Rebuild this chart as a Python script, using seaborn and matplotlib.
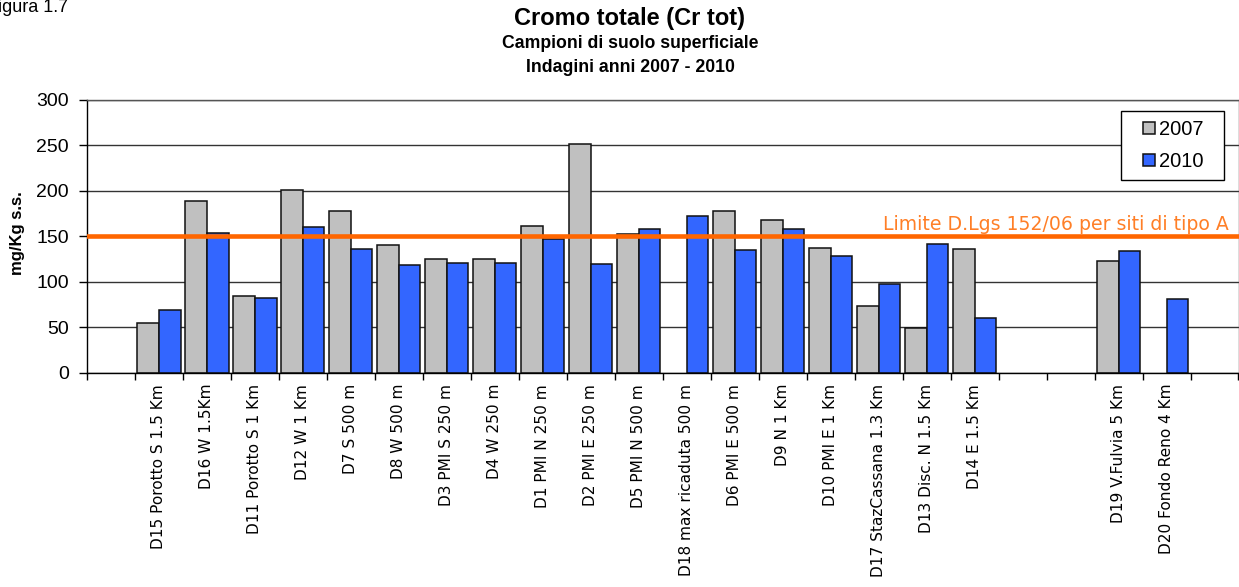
import numpy as np
import pandas as pd
import matplotlib
matplotlib.use("Agg")
import matplotlib.pyplot as plt
from matplotlib.patches import Rectangle
import seaborn as sns

# Sampling sites (soil surface samples) and total chromium, mg/Kg s.s.
sites = [
    "D15 Porotto S 1.5 Km", "D16 W 1.5Km", "D11 Porotto S 1 Km", "D12 W 1 Km",
    "D7 S 500 m", "D8 W 500 m", "D3 PMI S 250 m", "D4 W 250 m",
    "D1 PMI N 250 m", "D2 PMI E 250 m", "D5 PMI N 500 m", "D18 max ricaduta 500 m",
    "D6 PMI E 500 m", "D9 N 1 Km", "D10 PMI E 1 Km", "D17 StazCassana 1.3 Km",
    "D13 Disc. N 1.5 Km", "D14 E 1.5 Km", "D19 V.Fulvia 5 Km", "D20 Fondo Reno 4 Km",
]
v2007 = [55, 189, 84, 201, 177.5, 140.5, 125, 125, 161, 252, 152.5, None,
         177.5, 168, 137.5, 73, 49.5, 136.5, 122.5, None]
v2010 = [69, 154, 82.5, 160, 136, 118.5, 121, 121, 147, 120, 158.5, 172,
         135, 158.5, 128, 98, 142, 60.5, 134, 81.5]
years = ["2007", "2010"]
limit_value = 150
limit_label = "Limite D.Lgs 152/06 per siti di tipo A"
y_ticks = [0, 50, 100, 150, 200, 250, 300]

# empty category slots around the groups of sites
order = [" "] + sites[:18] + ["  ", "   "] + sites[18:] + ["    "]

rows = []
for s, a, b in zip(sites, v2007, v2010):
    if a is not None:
        rows.append((s, "2007", a))
    if b is not None:
        rows.append((s, "2010", b))
df = pd.DataFrame(rows, columns=["site", "anno", "valore"])

sns.set_theme(style="white")
plt.rcParams["font.family"] = ["Liberation Sans", "DejaVu Sans"]
plt.rcParams["text.color"] = "black"
plt.rcParams["axes.labelcolor"] = "black"
plt.rcParams["xtick.color"] = "black"
plt.rcParams["ytick.color"] = "black"

W, H = 1239, 587
fig = plt.figure(figsize=(W / 100, H / 100), dpi=100)
ax_w = 1238.5 - 87
ax_h = 372.7 - 100
ax = fig.add_axes([87 / W, 1 - 372.7 / H, ax_w / W, ax_h / H])

sns.barplot(data=df, x="site", y="valore", hue="anno", order=order,
            hue_order=years, palette=["#C0C0C0", "#3366FF"],
            width=0.9, edgecolor="#111111", linewidth=1.1, saturation=1,
            ax=ax)

ax.set_xlim(-0.5, len(order) - 0.5)
ax.set_ylim(0, 300)
ax.set_yticks(y_ticks)
ax.set_yticklabels([str(t) for t in y_ticks], fontsize=14)
ax.tick_params(axis="y", direction="out", length=6, width=1, color="black",
               left=True, pad=7)

# boundary ticks between categories, labels at category centres
ax.set_xticks(np.arange(-0.5, len(order), 1.0))
ax.set_xticklabels([])
ax.tick_params(axis="x", which="major", direction="out", length=5, width=1,
               color="black", bottom=True)
ax.set_xticks(np.arange(len(order)), minor=True)
ax.set_xticklabels(order, minor=True, rotation=90, fontsize=11.1,
                   family="DejaVu Sans")
ax.tick_params(axis="x", which="minor", length=0, pad=8)
ax.set_xlabel("")
ax.set_ylabel("mg/Kg s.s.", fontsize=12, fontweight="bold")
ax.yaxis.set_label_coords((25 - 87) / ax_w, 0.51)

ax.set_axisbelow(True)
ax.yaxis.grid(True, color="#333333", linewidth=1)
for side in ["left", "bottom"]:
    ax.spines[side].set_color("black")
    ax.spines[side].set_linewidth(1)
for side in ["top", "right"]:
    ax.spines[side].set_color("#555555")
    ax.spines[side].set_linewidth(1)

ax.axhline(limit_value, color="#FF6600", linewidth=3.3, zorder=5)
ax.text(len(order) - 0.5 - (1238.5 - 1229) / 48, 157.5, limit_label,
        color="#FF7F27", fontsize=13.6, family="DejaVu Sans",
        ha="right", va="baseline")

leg = ax.legend(loc="upper left",
                bbox_to_anchor=((1143 - 87) / ax_w, (372.7 - 120) / ax_h),
                fontsize=14.5, frameon=False,
                handlelength=0.6, handleheight=0.6, handletextpad=0.2,
                labelspacing=0.65, borderpad=0, borderaxespad=0)
for t in leg.get_texts():
    t.set_color("black")

fig.text(630 / W, 1 - 18 / H, "Cromo totale (Cr tot)", ha="center",
         va="center", fontsize=17, fontweight="bold")
fig.text(630 / W, 1 - 44 / H, "Campioni di suolo superficiale", ha="center",
         va="center", fontsize=12.7, fontweight="bold")
fig.text(630 / W, 1 - 68 / H, "Indagini anni 2007 - 2010", ha="center",
         va="center", fontsize=12.7, fontweight="bold")
fig.text(68 / W, 1 - 12 / H, "Figura 1.7", ha="right", va="baseline",
         fontsize=13)

# framed box around the legend entries, with wider side margins
fig.canvas.draw()
bb = leg.get_window_extent()
x0, y0 = bb.x0 - 22, bb.y0 - 9
box = Rectangle((x0 / W, y0 / H), (bb.width + 42) / W, (bb.height + 18) / H,
                transform=fig.transFigure, facecolor="white",
                edgecolor="black", linewidth=1, zorder=4)
ax.add_artist(box)
leg.set_zorder(6)

fig.savefig("out.png", dpi=100)
